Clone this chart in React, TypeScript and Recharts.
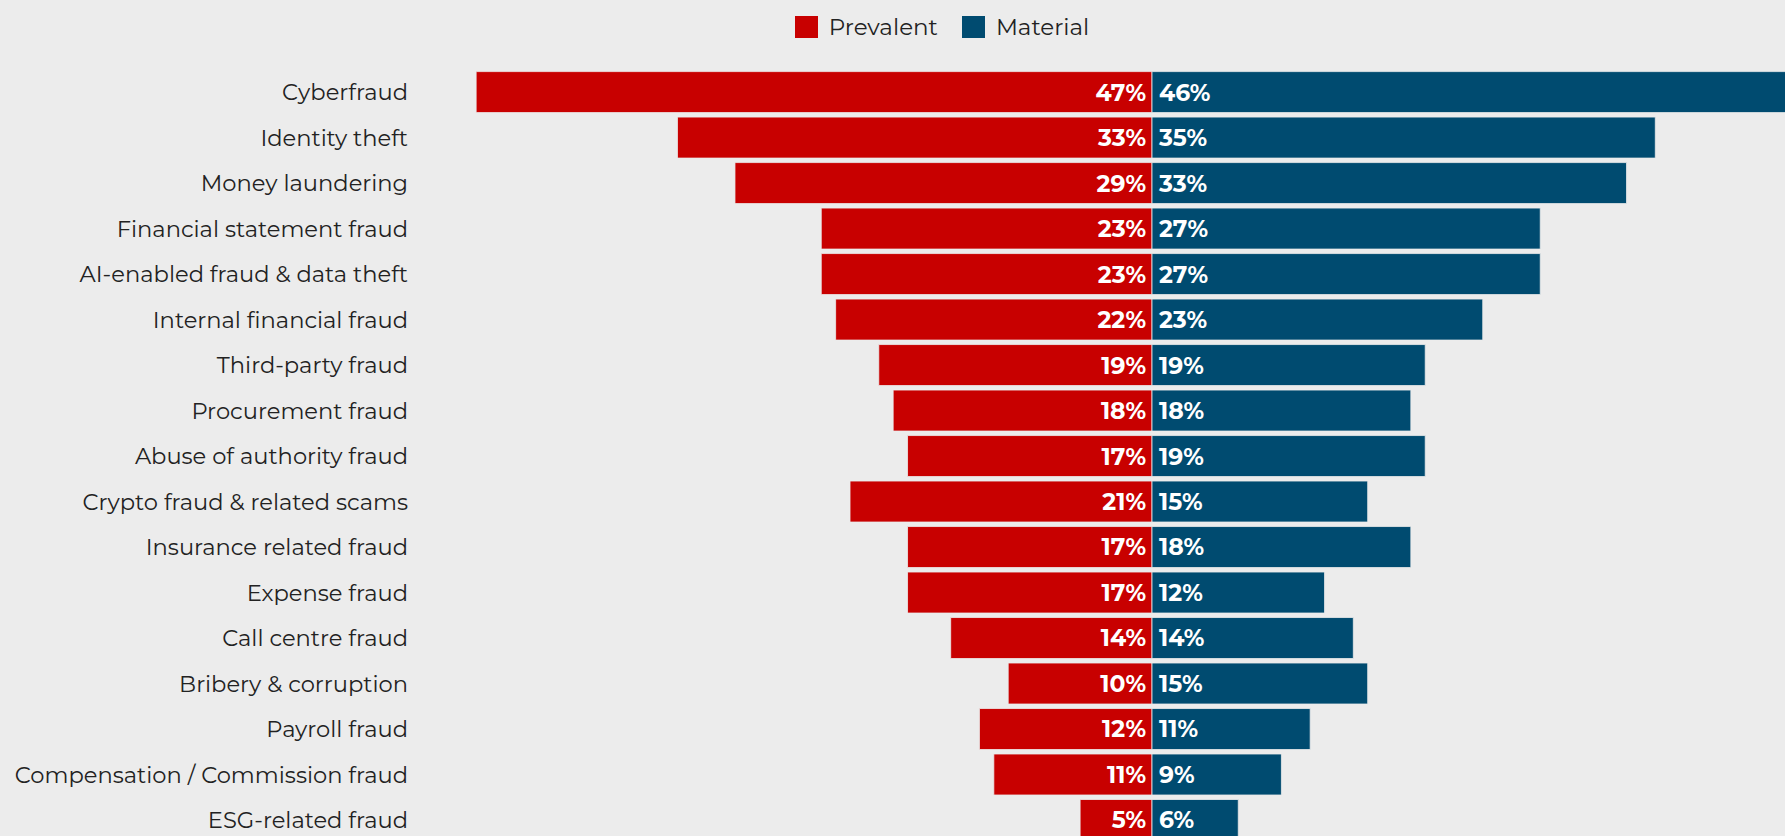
import React from "react";
import { ComposedChart, Bar, XAxis, YAxis, Legend, LabelList } from "recharts";

const categories = [
  "Cyberfraud",
  "Identity theft",
  "Money laundering",
  "Financial statement fraud",
  "AI-enabled fraud & data theft",
  "Internal financial fraud",
  "Third-party fraud",
  "Procurement fraud",
  "Abuse of authority fraud",
  "Crypto fraud & related scams",
  "Insurance related fraud",
  "Expense fraud",
  "Call centre fraud",
  "Bribery & corruption",
  "Payroll fraud",
  "Compensation / Commission fraud",
  "ESG-related fraud",
];
const prevalent = [47, 33, 29, 23, 23, 22, 19, 18, 17, 21, 17, 17, 14, 10, 12, 11, 5];
const material = [46, 35, 33, 27, 27, 23, 19, 18, 19, 15, 18, 12, 14, 15, 11, 9, 6];
const seriesNames = ["Prevalent", "Material"];
const colors = ["#c80000", "#004b70"];

const data = categories.map((name, i) => ({
  name,
  prevalent: -prevalent[i],
  material: material[i],
}));

const FONT = "Montserrat, 'Open Sans', sans-serif";

const LegendContent = () => (
  <div
    style={{
      height: 64.6,
      display: "flex",
      justifyContent: "center",
      alignItems: "flex-start",
      paddingTop: 11,
      paddingLeft: 13,
      boxSizing: "border-box",
      fontFamily: FONT,
    }}
  >
    {seriesNames.map((n, i) => (
      <div
        key={n}
        style={{ display: "flex", alignItems: "center", marginRight: i === 0 ? 24 : 0 }}
      >
        <div style={{ width: 23, height: 22, background: colors[i], marginRight: 11 }} />
        <span style={{ fontSize: 23, color: "#222", lineHeight: "22px" }}>{n}</span>
      </div>
    ))}
  </div>
);

const makeLabel = (side: "left" | "right") => (props: any) => {
  const { x, y, width, height, value } = props;
  const x0 = Number(x);
  const w = Number(width);
  const right = Math.max(x0, x0 + w);
  const left = Math.min(x0, x0 + w);
  const cy = Number(y) + Number(height) / 2;
  return (
    <text
      x={side === "left" ? right - 6 : left + 7}
      y={cy}
      dy="0.36em"
      textAnchor={side === "left" ? "end" : "start"}
      fill="#ffffff"
      fontWeight={700}
      fontSize={23.5}
      fontFamily={FONT}
    >
      {Math.abs(Number(value))}%
    </text>
  );
};

export default function App() {
  return (
    <div
      style={{
        position: "absolute",
        left: 0,
        top: 0,
        width: 1785,
        height: 836,
        overflow: "hidden",
        background: "#ececec",
      }}
    >
      <ComposedChart
        width={1882}
        height={853}
        data={data}
        layout="vertical"
        stackOffset="sign"
        margin={{ top: 5, right: 11, bottom: 10, left: 0 }}
      >
        <Legend verticalAlign="top" content={<LegendContent />} />
        <XAxis type="number" domain={[-50, 50]} hide />
        <YAxis
          type="category"
          dataKey="name"
          width={433}
          tickSize={0}
          tickMargin={25}
          axisLine={false}
          tickLine={false}
          interval={0}
          tick={{ fill: "#222", fontSize: 22.6, fontFamily: FONT }}
        />
        <Bar
          dataKey="prevalent"
          name={seriesNames[0]}
          stackId="a"
          fill={colors[0]}
          stroke="#ececec"
          strokeWidth={0.8}
          barSize={41}
          isAnimationActive={false}
        >
          <LabelList dataKey="prevalent" content={makeLabel("left")} />
        </Bar>
        <Bar
          dataKey="material"
          name={seriesNames[1]}
          stackId="a"
          fill={colors[1]}
          stroke="#ececec"
          strokeWidth={0.8}
          barSize={41}
          isAnimationActive={false}
        >
          <LabelList dataKey="material" content={makeLabel("right")} />
        </Bar>
      </ComposedChart>
    </div>
  );
}
